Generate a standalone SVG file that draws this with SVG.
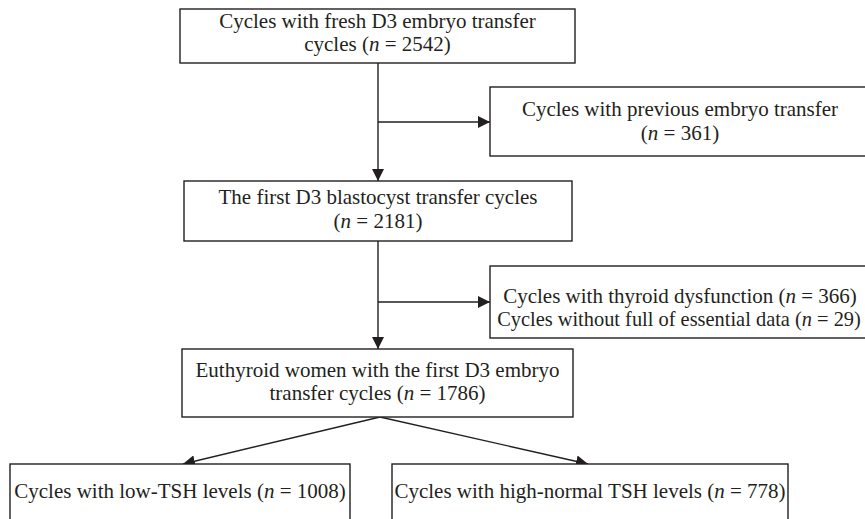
<svg xmlns="http://www.w3.org/2000/svg" width="865" height="519" viewBox="0 0 865 519">
<style>
.box{fill:#fff;stroke:#231f20;stroke-width:1.4}
.t{font-family:"Liberation Serif","Times New Roman",serif;font-size:21px;fill:#231f20;text-anchor:middle}
.i{font-style:italic}
.c{stroke:#231f20;stroke-width:1.4;fill:none}
</style>
<defs>
<marker id="ah" viewBox="0 0 12 12" refX="12" refY="6" markerWidth="12" markerHeight="12" markerUnits="userSpaceOnUse" orient="auto">
<path d="M0,0 L12,6 L0,12 Z" fill="#231f20"/>
</marker>
</defs>
<rect width="865" height="519" fill="#fff"/>
<g id="connectors">
<line class="c" x1="378" y1="63" x2="378" y2="181" marker-end="url(#ah)"/>
<line class="c" x1="378" y1="122" x2="490" y2="122" marker-end="url(#ah)"/>
<line class="c" x1="378" y1="241" x2="378" y2="349" marker-end="url(#ah)"/>
<line class="c" x1="378" y1="302" x2="490" y2="302" marker-end="url(#ah)"/>
<line class="c" x1="380" y1="417" x2="183" y2="464" marker-end="url(#ah)"/>
<line class="c" x1="380" y1="417" x2="588" y2="464" marker-end="url(#ah)"/>
</g>
<g id="n1">
<rect class="box" x="180" y="9" width="395" height="54"/>
<text class="t" x="377.5" y="28">Cycles with fresh D3 embryo transfer</text>
<text class="t" x="377.5" y="51">cycles (<tspan class="i">n</tspan> = 2542)</text>
</g>
<g id="n2">
<rect class="box" x="490" y="87" width="384" height="69"/>
<text class="t" x="680" y="116">Cycles with previous embryo transfer</text>
<text class="t" x="680" y="140">(<tspan class="i">n</tspan> = 361)</text>
</g>
<g id="n3">
<rect class="box" x="184" y="181" width="388" height="60"/>
<text class="t" x="378" y="204">The first D3 blastocyst transfer cycles</text>
<text class="t" x="378" y="228">(<tspan class="i">n</tspan> = 2181)</text>
</g>
<g id="n4">
<rect class="box" x="490" y="266" width="384" height="72"/>
<text class="t" x="680" y="303">Cycles with thyroid dysfunction (<tspan class="i">n</tspan> = 366)</text>
<text class="t" x="679" y="326" style="font-size:20.4px">Cycles without full of essential data (<tspan class="i">n</tspan> = 29)</text>
</g>
<g id="n5">
<rect class="box" x="182" y="349" width="391" height="68"/>
<text class="t" x="377.5" y="377">Euthyroid women with the first D3 embryo</text>
<text class="t" x="377.5" y="400">transfer cycles (<tspan class="i">n</tspan> = 1786)</text>
</g>
<g id="n6">
<rect class="box" x="10" y="464" width="340" height="70"/>
<text class="t" x="180" y="498">Cycles with low-TSH levels (<tspan class="i">n</tspan> = 1008)</text>
</g>
<g id="n7">
<rect class="box" x="392" y="464" width="396" height="70"/>
<text class="t" x="590" y="498">Cycles with high-normal TSH levels (<tspan class="i">n</tspan> = 778)</text>
</g>
</svg>
